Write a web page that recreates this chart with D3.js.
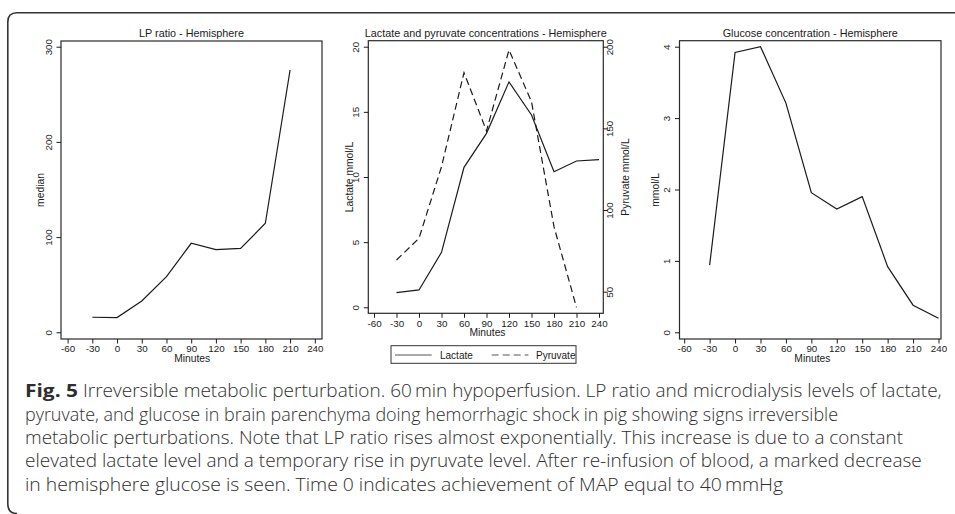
<!DOCTYPE html>
<html>
<head>
<meta charset="utf-8">
<script src="https://cdn.jsdelivr.net/npm/d3@7"></script>
<style>
  body { margin: 0; background: #fff; }
  svg { display: block; }
  .tick text { font-family: "Liberation Sans", Arial, sans-serif; fill: #222; }
</style>
</head>
<body>
<svg id="fig" width="955" height="514"></svg>
<script>
// time points (minutes) shared by all three panels
const minutes = [-30, 0, 30, 60, 90, 120, 150, 180, 210, 240];
const xTicks = [-60, -30, 0, 30, 60, 90, 120, 150, 180, 210, 240];

// LP ratio, median (no value at 240)
const lpRatio = [15.8, 15.5, 32.9, 58.4, 93.5, 86.8, 88.2, 114.5, 275.5];
// lactate mmol/L (left axis) and pyruvate (right axis, stops at 210)
const lactate = [1.12, 1.33, 4.22, 10.74, 13.35, 17.3, 14.76, 10.4, 11.23, 11.33];
const pyruvate = [69.4, 82.7, 126.5, 184.1, 148.4, 198, 166.3, 89.8, 40.4];
// glucose mmol/L
const glucose = [0.94, 3.92, 4.0, 3.21, 1.955, 1.727, 1.90, 0.92, 0.38, 0.196];

const lpTicks = [0, 100, 200, 300];
const lacTicks = [0, 5, 10, 15, 20];
const pyrTicks = [50, 100, 150, 200];
const gluTicks = [0, 1, 2, 3, 4];

const captionLines = [
  "Irreversible metabolic perturbation. 60\u2009min hypoperfusion. LP ratio and microdialysis levels of lactate,",
  "pyruvate, and glucose in brain parenchyma doing hemorrhagic shock in pig showing signs irreversible",
  "metabolic perturbations. Note that LP ratio rises almost exponentially. This increase is due to a constant",
  "elevated lactate level and a temporary rise in pyruvate level. After re-infusion of blood, a marked decrease",
  "in hemisphere glucose is seen. Time 0 indicates achievement of MAP equal to 40\u2009mmHg"
];

const svg = d3.select("#fig");
const font = '"Liberation Sans", Arial, sans-serif';
const ink = "#1a1a1a";
const fmt = d => String(d);   // plain hyphen minus, no decimals

// figure frame (open on the right)
svg.append("path")
  .attr("d", "M956,12.8 H17 Q7.8,12.8 7.8,22 V504 Q7.8,513.5 17,513.5")
  .attr("fill", "none")
  .attr("stroke", "#333")
  .attr("stroke-width", 1.6);

function panel(cfg) {
  const g = svg.append("g");
  const x = d3.scaleLinear().domain([-60, 240]).range(cfg.xr);

  // plot frame
  g.append("rect")
    .attr("x", cfg.box[0]).attr("y", cfg.box[1])
    .attr("width", cfg.box[2] - cfg.box[0]).attr("height", cfg.box[3] - cfg.box[1])
    .attr("fill", "none").attr("stroke", "#2a2a2a").attr("stroke-width", 1.2);

  // x axis
  const xa = g.append("g")
    .attr("transform", "translate(0," + cfg.box[3] + ")")
    .call(d3.axisBottom(x).tickValues(xTicks).tickFormat(fmt).tickSize(4.5).tickSizeOuter(0).tickPadding(2));
  xa.select(".domain").remove();
  xa.selectAll("line").attr("stroke", ink);
  xa.selectAll("text").attr("font-size", 9.8).attr("fill", ink);

  g.append("text")
    .attr("x", (cfg.xr[0] + cfg.xr[1]) / 2 + 1)
    .attr("y", cfg.box[3] + cfg.minY)
    .attr("text-anchor", "middle")
    .attr("font-family", font).attr("font-size", 10.3).attr("fill", ink)
    .text("Minutes");

  // title
  g.append("text")
    .attr("x", (cfg.box[0] + cfg.box[2]) / 2)
    .attr("y", 37)
    .attr("text-anchor", "middle")
    .attr("font-family", font).attr("font-size", 10.8).attr("fill", ink)
    .text(cfg.title);

  cfg.axes.forEach(a => {
    const y = d3.scaleLinear().domain(a.domain).range(a.range);
    const right = a.side === "right";
    const ax = g.append("g")
      .attr("transform", "translate(" + (right ? cfg.box[2] : cfg.box[0]) + ",0)")
      .call((right ? d3.axisRight(y) : d3.axisLeft(y)).tickValues(a.ticks).tickFormat(fmt).tickSize(4.5).tickSizeOuter(0));
    ax.select(".domain").remove();
    ax.selectAll("line").attr("stroke", ink);
    ax.selectAll("text")
      .attr("transform", "rotate(-90)")
      .attr("x", 0)
      .attr("y", right ? 10 : -9.3)
      .attr("dy", 0)
      .attr("text-anchor", "middle")
      .attr("font-size", 9.8).attr("fill", ink);

    g.append("text")
      .attr("transform", "translate(" + a.labelX + "," + ((cfg.box[1] + cfg.box[3]) / 2) + ") rotate(-90)")
      .attr("text-anchor", "middle")
      .attr("dominant-baseline", "central")
      .attr("font-family", font).attr("font-size", 10.3).attr("fill", ink)
      .text(a.label);

    a.series.forEach(s => {
      const line = d3.line()
        .x((d, i) => x(minutes[i]))
        .y(d => y(d));
      g.append("path")
        .datum(s.values)
        .attr("d", line)
        .attr("fill", "none")
        .attr("stroke", ink)
        .attr("stroke-width", 1.2)
        .attr("stroke-dasharray", s.dash || null);
    });
  });
  return g;
}

panel({
  title: "LP ratio - Hemisphere",
  box: [61, 41, 322, 339],
  xr: [67.6, 314.8],
  minY: 23,
  axes: [{ side: "left", domain: [0, 300], range: [332.3, 46.7], ticks: lpTicks,
           label: "median", labelX: 40, series: [{ values: lpRatio }] }]
});

panel({
  title: "Lactate and pyruvate concentrations - Hemisphere",
  box: [368.3, 40.7, 603.3, 313.3],
  xr: [374, 599],
  minY: 23,
  axes: [
    { side: "left", domain: [0, 20], range: [307.3, 46.7], ticks: lacTicks,
      label: "Lactate mmol/L", labelX: 349, series: [{ values: lactate }] },
    { side: "right", domain: [50, 200], range: [291.7, 46.7], ticks: pyrTicks,
      label: "Pyruvate mmol/L", labelX: 625, series: [{ values: pyruvate, dash: "7,4" }] }
  ]
});

panel({
  title: "Glucose concentration - Hemisphere",
  box: [679.5, 40.7, 941, 339],
  xr: [684.2, 938.5],
  minY: 23,
  axes: [{ side: "left", domain: [0, 4], range: [332.3, 46.7], ticks: gluTicks,
           label: "mmol/L", labelX: 655, series: [{ values: glucose }] }]
});

// legend for the middle panel
const legend = svg.append("g");
legend.append("rect")
  .attr("x", 391).attr("y", 345.7).attr("width", 185).attr("height", 17.6)
  .attr("fill", "#fff").attr("stroke", "#333").attr("stroke-width", 1);
[["Lactate", null, 395, 440], ["Pyruvate", "7,4", 491.7, 536]].forEach(([name, dash, x0, tx]) => {
  legend.append("line")
    .attr("x1", x0).attr("x2", x0 + 36.7).attr("y1", 355).attr("y2", 355)
    .attr("stroke", "#555").attr("stroke-width", 1.2)
    .attr("stroke-dasharray", dash);
  legend.append("text")
    .attr("x", tx).attr("y", 358.5)
    .attr("font-family", font).attr("font-size", 10).attr("fill", ink)
    .text(name);
});

// caption
const capFont = '"Open Sans", "Noto Sans", sans-serif';
const capInk = "#2e2e2e";
const baselines = [397.3, 420.7, 444, 467.4, 490.7];
const lineEnds = [941.7, 838, 903, 921.7, 783];
svg.append("text")
  .attr("x", 25).attr("y", baselines[0])
  .attr("font-family", capFont).attr("font-size", 18.5).attr("font-weight", 700)
  .attr("fill", capInk)
  .attr("textLength", 53).attr("lengthAdjust", "spacingAndGlyphs")
  .text("Fig. 5");
captionLines.forEach((t, i) => {
  const x0 = i === 0 ? 83 : 25;
  svg.append("text")
    .attr("x", x0).attr("y", baselines[i])
    .attr("font-family", capFont).attr("font-size", 18.5).attr("font-weight", 300)
    .attr("fill", capInk)
    .attr("textLength", lineEnds[i] - x0).attr("lengthAdjust", "spacingAndGlyphs")
    .text(t);
});
</script>
</body>
</html>
